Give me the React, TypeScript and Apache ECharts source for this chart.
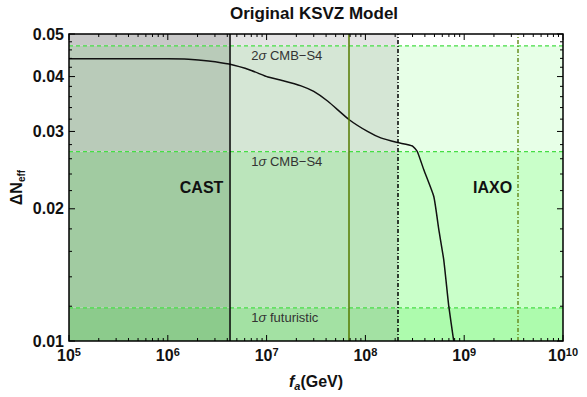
import React, { useEffect, useRef } from 'react';
import * as echarts from 'echarts';

const chartTitle = 'Original KSVZ Model';

// Curve: f_a (GeV) vs ΔN_eff
const faValues = [1e5, 4e5, 1.0e6, 1.62e6, 2.58e6, 4.17e6, 7.0e6, 1.03e7, 1.5e7, 2.23e7, 3.0e7, 4.2e7, 6.86e7, 1.05e8, 1.43e8, 2.11e8, 2.99e8, 3.35e8, 3.91e8, 4.93e8, 5.54e8, 6.21e8, 6.98e8, 7.83e8];
const deltaNeffValues = [0.0439, 0.0439, 0.0439, 0.0438, 0.0434, 0.0427, 0.0413, 0.0399, 0.0391, 0.0381, 0.0370, 0.0351, 0.0319, 0.0300, 0.0290, 0.0283, 0.0278, 0.0270, 0.0245, 0.0213, 0.0179, 0.0153, 0.0120, 0.0100];

// Sensitivity lines (horizontal)
const sensitivityLevels = [0.047, 0.027, 0.0119];
const sensitivityPrefix = ['2', '1', '1'];
const sensitivitySuffix = [' CMB−S4', ' CMB−S4', ' futuristic'];
const sensitivityLabelFa = 7e6;

// Vertical bounds: CAST limit, green solid, black dash-dot, olive dash-dot
const boundFa = [4.2e6, 6.85e7, 2.14e8, 3.5e9];

// Shaded cells
const regionEdges = [1e5, 4.2e6, 2.14e8, 1e10];
const bandEdges = [0.01, 0.0119, 0.027, 0.047, 0.05];

// Experiment labels
const experimentNames = ['CAST', 'IAXO'];
const experimentFa = [4.2e6, 1.23e9];
const experimentDn = [0.0224, 0.0224];

// Axes
const X_MIN = 1e5;
const X_MAX = 1e10;
const Y_MIN = 0.01;
const Y_MAX = 0.05;
const xTickDecades = [5, 6, 7, 8, 9];
const xTickMantissas = [1, 2, 3, 4, 5, 6, 7, 8, 9];
const yTickValues = [0.01, 0.012, 0.014, 0.016, 0.018, 0.02, 0.022, 0.024, 0.026, 0.028, 0.03, 0.032, 0.034, 0.036, 0.038, 0.04, 0.042, 0.044, 0.046, 0.048, 0.05];
const yLabelValues = [0.01, 0.02, 0.03, 0.04, 0.05];

const FONT = 'Liberation Sans, Arial, Helvetica, sans-serif';

const cellColors = [
  ['#8ccb8c', '#a1cba1', '#b9cbb9', '#c8c8c8'],
  ['#a3e1a3', '#bbe5bb', '#d5e6d5', '#e4e4e4'],
  ['#adfbad', '#c9ffc9', '#e7ffe7', '#ffffff'],
];
const boundStyles = [
  { color: '#000000', type: 'solid', width: 1.5 },
  { color: '#557a00', type: 'solid', width: 1.5 },
  { color: '#000000', type: [4, 2, 1, 2], width: 1.5 },
  { color: '#6b8e23', type: [4, 2, 1, 2], width: 1.5 },
];

function buildOption(): any {
  const cells: number[][] = [];
  for (let r = 0; r < regionEdges.length - 1; r++) {
    for (let b = 0; b < bandEdges.length - 1; b++) {
      cells.push([regionEdges[r], regionEdges[r + 1], bandEdges[b], bandEdges[b + 1], r, b]);
    }
  }
  const xTickData: number[][] = [];
  xTickDecades.forEach((d) => {
    xTickMantissas.forEach((m) => {
      xTickData.push([m * Math.pow(10, d), Y_MIN, m === 1 ? 1 : 0]);
    });
  });
  xTickData.push([X_MAX, Y_MIN, 1]);
  const yTickData = yTickValues.map((v) => [X_MIN, v, yLabelValues.some((l) => Math.abs(l - v) < 1e-9) ? 1 : 0]);

  const sensData = sensitivityLevels.map((v, i) => [sensitivityLabelFa, v, i]);
  const expData = experimentNames.map((_, i) => [experimentFa[i], experimentDn[i], i]);

  const tickStyle = { stroke: '#000', lineWidth: 1 };

  return {
    animation: false,
    backgroundColor: '#ffffff',
    graphic: [
      {
        type: 'text',
        x: 314,
        y: 5,
        style: {
          text: chartTitle,
          align: 'center',
          verticalAlign: 'top',
          fontFamily: FONT,
          fontWeight: 'bold',
          fontSize: 17,
          fill: '#111',
        },
      },
    ],
    grid: {
      left: 67,
      right: 24,
      top: 34,
      bottom: 56,
      show: true,
      z: 10,
      borderColor: '#000',
      borderWidth: 1.5,
      backgroundColor: 'transparent',
    },
    xAxis: {
      type: 'log',
      logBase: 10,
      min: X_MIN,
      max: X_MAX,
      axisLine: { show: false },
      axisTick: { show: false },
      splitLine: { show: false },
      minorTick: { show: false },
      axisLabel: {
        show: true,
        margin: 5,
        showMinLabel: true,
        showMaxLabel: true,
        formatter: (v: number) => `{b|10}{s|${Math.round(Math.log10(v))}}`,
        rich: {
          b: { fontFamily: FONT, fontWeight: 'bold', fontSize: 16, color: '#111', lineHeight: 18 },
          s: { fontFamily: FONT, fontWeight: 'bold', fontSize: 11, color: '#111', lineHeight: 10, verticalAlign: 'top' },
        },
      },
      name: '{i|f}{a|a}{b|(GeV)}',
      nameLocation: 'middle',
      nameGap: 30,
      nameTextStyle: {
        rich: {
          i: { fontFamily: FONT, fontWeight: 'bold', fontStyle: 'italic', fontSize: 16, color: '#111', lineHeight: 20 },
          a: { fontFamily: FONT, fontWeight: 'bold', fontStyle: 'italic', fontSize: 11, color: '#111', lineHeight: 11, verticalAlign: 'bottom' },
          b: { fontFamily: FONT, fontWeight: 'bold', fontSize: 16, color: '#111', lineHeight: 20 },
        },
      },
    },
    yAxis: {
      type: 'log',
      logBase: 10,
      min: Y_MIN,
      max: Y_MAX,
      axisLine: { show: false },
      axisTick: { show: false },
      splitLine: { show: false },
      minorTick: { show: false },
      axisLabel: { show: false },
      name: '{d|ΔN}{e|eff}',
      nameLocation: 'middle',
      nameGap: 43,
      nameTextStyle: {
        rich: {
          d: { fontFamily: FONT, fontWeight: 'bold', fontSize: 16, color: '#111', lineHeight: 20 },
          e: { fontFamily: FONT, fontWeight: 'bold', fontSize: 10, color: '#111', lineHeight: 10, verticalAlign: 'bottom' },
        },
      },
    },
    series: [
      {
        type: 'custom',
        name: 'regions',
        z: 1,
        silent: true,
        data: cells,
        encode: { x: [0, 1], y: [2, 3] },
        renderItem: (params: any, api: any) => {
          const p0 = api.coord([api.value(0), api.value(3)]);
          const p1 = api.coord([api.value(1), api.value(2)]);
          const r = api.value(4) as number;
          const b = api.value(5) as number;
          return {
            type: 'rect',
            shape: { x: p0[0], y: p0[1], width: p1[0] - p0[0], height: p1[1] - p0[1] },
            style: { fill: cellColors[r][b], stroke: null },
          };
        },
      },
      {
        type: 'custom',
        name: 'sensitivityLines',
        z: 2,
        silent: true,
        data: sensitivityLevels.map((v) => [X_MIN, v]),
        encode: { x: 0, y: 1 },
        renderItem: (params: any, api: any) => {
          const v = api.value(1);
          const a = api.coord([X_MIN, v]);
          const b = api.coord([X_MAX, v]);
          return {
            type: 'line',
            shape: { x1: a[0], y1: a[1], x2: b[0], y2: b[1] },
            style: { stroke: '#45dd45', lineWidth: 1.3, lineDash: [4, 3] },
          };
        },
      },
      {
        type: 'line',
        name: 'ΔNeff',
        z: 3,
        data: faValues.map((f, i) => [f, deltaNeffValues[i]]),
        symbol: 'none',
        showSymbol: false,
        smooth: 0.15,
        lineStyle: { color: '#111', width: 1.5 },
        markLine: {
          silent: true,
          symbol: ['none', 'none'],
          label: { show: false },
          data: boundFa.map((f, i) => ({ xAxis: f, lineStyle: boundStyles[i] })),
        },
      },
      {
        type: 'custom',
        name: 'sensitivityLabels',
        z: 4,
        silent: true,
        data: sensData,
        encode: { x: 0, y: 1 },
        renderItem: (params: any, api: any) => {
          const p = api.coord([api.value(0), api.value(1)]);
          const i = api.value(2) as number;
          return {
            type: 'text',
            x: p[0],
            y: p[1] + 3,
            style: {
              text: `{n|${sensitivityPrefix[i]}}{g|σ}{n|${sensitivitySuffix[i]}}`,
              align: 'left',
              verticalAlign: 'top',
              rich: {
                n: { fontFamily: FONT, fontSize: 13, fill: '#333' },
                g: { fontFamily: FONT, fontSize: 13, fontStyle: 'italic', fill: '#333' },
              },
            },
          };
        },
      },
      {
        type: 'custom',
        name: 'experimentLabels',
        z: 4,
        silent: true,
        data: expData,
        encode: { x: 0, y: 1 },
        renderItem: (params: any, api: any) => {
          const p = api.coord([api.value(0), api.value(1)]);
          const i = api.value(2) as number;
          const right = i === 0;
          return {
            type: 'text',
            x: right ? p[0] - 6 : p[0],
            y: p[1],
            style: {
              text: experimentNames[i],
              align: right ? 'right' : 'left',
              verticalAlign: 'middle',
              fontFamily: FONT,
              fontWeight: 'bold',
              fontSize: 16,
              fill: '#111',
            },
          };
        },
      },
      {
        type: 'custom',
        name: 'xTicks',
        z: 6,
        silent: true,
        data: xTickData,
        encode: { x: 0, y: 1 },
        renderItem: (params: any, api: any) => {
          const v = api.value(0);
          const major = api.value(2) === 1;
          const len = major ? 6 : 3;
          const b = api.coord([v, Y_MIN]);
          const t = api.coord([v, Y_MAX]);
          return {
            type: 'group',
            children: [
              { type: 'line', shape: { x1: b[0], y1: b[1], x2: b[0], y2: b[1] - len }, style: tickStyle },
              { type: 'line', shape: { x1: t[0], y1: t[1], x2: t[0], y2: t[1] + len }, style: tickStyle },
            ],
          };
        },
      },
      {
        type: 'custom',
        name: 'yTicks',
        z: 6,
        silent: true,
        data: yTickData,
        encode: { x: 0, y: 1 },
        renderItem: (params: any, api: any) => {
          const v = api.value(1) as number;
          const major = api.value(2) === 1;
          const len = major ? 6 : 3;
          const l = api.coord([X_MIN, v]);
          const r = api.coord([X_MAX, v]);
          const children: any[] = [
            { type: 'line', shape: { x1: l[0], y1: l[1], x2: l[0] + len, y2: l[1] }, style: tickStyle },
            { type: 'line', shape: { x1: r[0], y1: r[1], x2: r[0] - len, y2: r[1] }, style: tickStyle },
          ];
          if (major) {
            children.push({
              type: 'text',
              x: l[0] - 5,
              y: l[1],
              style: {
                text: v.toFixed(2),
                align: 'right',
                verticalAlign: 'middle',
                fontFamily: FONT,
                fontWeight: 'bold',
                fontSize: 16,
                fill: '#111',
              },
            });
          }
          return { type: 'group', children };
        },
      },
    ],
  };
}

export default function App() {
  const ref = useRef<HTMLDivElement>(null);
  useEffect(() => {
    document.body.style.margin = '0';
    const chart = echarts.init(ref.current as HTMLDivElement, null, { renderer: 'svg' });
    chart.setOption(buildOption());
    return () => {
      chart.dispose();
    };
  }, []);
  return <div ref={ref} style={{ position: 'fixed', left: 0, top: 0, width: 587, height: 397 }} />;
}
